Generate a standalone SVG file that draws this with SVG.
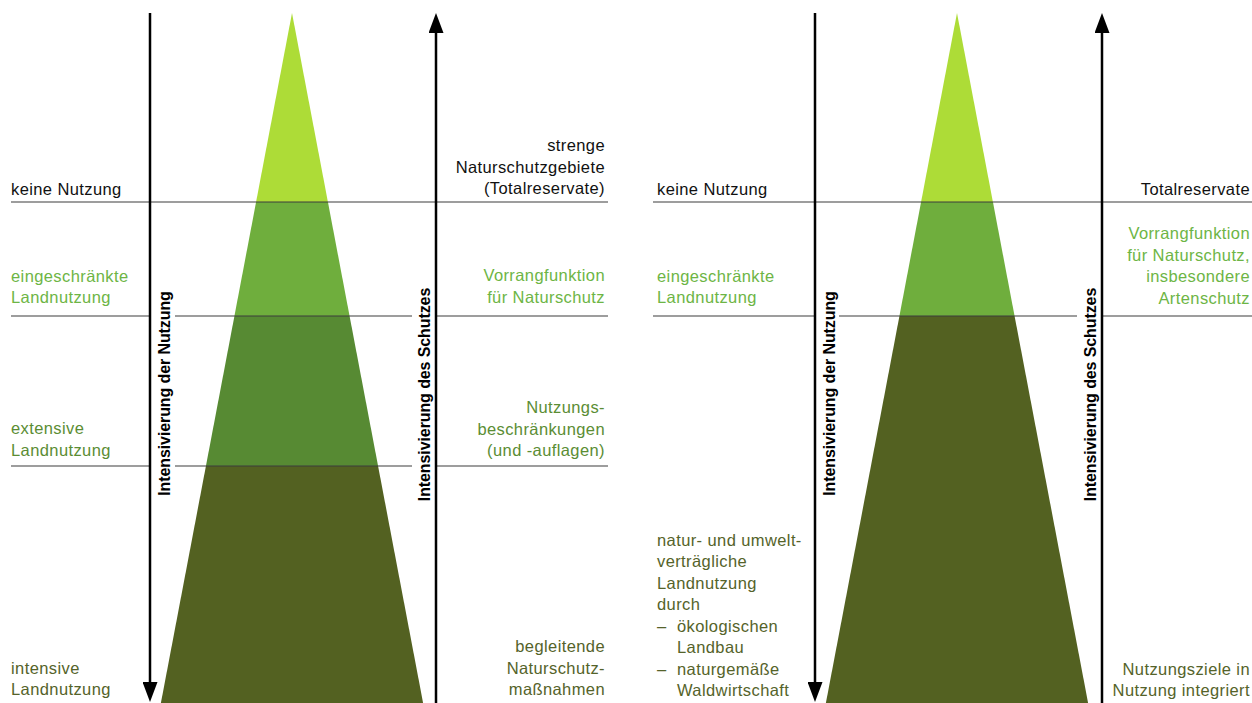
<svg xmlns="http://www.w3.org/2000/svg" width="1252" height="703" viewBox="0 0 1252 703">
<defs>
<style>
text{font-family:"Liberation Sans",Arial,Helvetica,sans-serif;font-size:16.5px;letter-spacing:0.4px}
.blk{fill:#111}
.lg{fill:#6db545}
.mg{fill:#5b8d34}
.dg{fill:#55632a}
.end{text-anchor:end}
.vt{font-weight:bold;font-size:16px;letter-spacing:-0.1px;text-anchor:middle;fill:#000}
.b1{fill:#addc37}
.b2{fill:#6fae3d}
.b3{fill:#578a33}
.b4{fill:#536121}
.hl{stroke:#3c3c3c;stroke-width:1.2;fill:none}
.ar{stroke:#000;stroke-width:2.5;fill:none}
</style>
<marker id="ah" viewBox="0 0 20 15" markerWidth="20" markerHeight="15" refX="12" refY="7.5" orient="auto" markerUnits="userSpaceOnUse">
<path d="M0,0 L20,7.5 L0,15 Z" fill="#000"/>
</marker>
</defs>
<rect width="1252" height="703" fill="#fff"/>

<!-- Left panel pyramid -->
<g id="left-pyramid">
<polygon id="L-band1" class="b1" points="292,13 327.91,202 256.09,202"/>
<polygon id="L-band2" class="b2" points="256.09,202 327.91,202 349.57,316 234.43,316"/>
<polygon id="L-band3" class="b3" points="234.43,316 349.57,316 378.07,466 205.93,466"/>
<polygon id="L-band4" class="b4" points="205.93,466 378.07,466 423.1,703 160.9,703"/>
</g>

<!-- Right panel pyramid -->
<g id="right-pyramid">
<polygon id="R-band1" class="b1" points="957,13 992.91,202 921.09,202"/>
<polygon id="R-band2" class="b2" points="921.09,202 992.91,202 1014.57,316 899.43,316"/>
<polygon id="R-band3" class="b4" points="899.43,316 1014.57,316 1088.1,703 825.9,703"/>
</g>

<g id="connectors">
<line class="hl" x1="11" y1="202" x2="608" y2="202"/>
<line class="hl" x1="11" y1="316" x2="150" y2="316"/>
<line class="hl" x1="175" y1="316" x2="412" y2="316"/>
<line class="hl" x1="436" y1="316" x2="608" y2="316"/>
<line class="hl" x1="11" y1="466" x2="150" y2="466"/>
<line class="hl" x1="175" y1="466" x2="412" y2="466"/>
<line class="hl" x1="436" y1="466" x2="608" y2="466"/>
<line class="hl" x1="653" y1="202" x2="1252" y2="202"/>
<line class="hl" x1="653" y1="316" x2="815" y2="316"/>
<line class="hl" x1="839" y1="316" x2="1077" y2="316"/>
<line class="hl" x1="1102" y1="316" x2="1252" y2="316"/>
<line class="ar" x1="150" y1="13" x2="150" y2="694" marker-end="url(#ah)"/>
<line class="ar" x1="436" y1="703" x2="436" y2="21" marker-end="url(#ah)"/>
<line class="ar" x1="815" y1="13" x2="815" y2="694" marker-end="url(#ah)"/>
<line class="ar" x1="1102" y1="703" x2="1102" y2="21" marker-end="url(#ah)"/>
</g>

<g id="axis-labels">
<text class="vt" transform="translate(169.5,393.5) rotate(-90)">Intensivierung der Nutzung</text>
<text class="vt" transform="translate(430,394.5) rotate(-90)">Intensivierung des Schutzes</text>
<text class="vt" transform="translate(834.5,393.5) rotate(-90)">Intensivierung der Nutzung</text>
<text class="vt" transform="translate(1096,394.5) rotate(-90)">Intensivierung des Schutzes</text>
</g>

<!-- Left panel labels -->
<g id="L-keine"><text class="blk" x="11" y="195">keine Nutzung</text></g>
<g id="L-eingeschraenkt"><text class="lg" x="11" y="281.5">eingeschränkte</text><text class="lg" x="11" y="303">Landnutzung</text></g>
<g id="L-extensiv"><text class="mg" x="11" y="434">extensive</text><text class="mg" x="11" y="455.5">Landnutzung</text></g>
<g id="L-intensiv"><text class="dg" x="11" y="673.5">intensive</text><text class="dg" x="11" y="695">Landnutzung</text></g>

<g id="L-strenge"><text class="blk end" x="605" y="151">strenge</text><text class="blk end" x="605" y="172.5">Naturschutzgebiete</text><text class="blk end" x="605" y="194">(Totalreservate)</text></g>
<g id="L-vorrang"><text class="lg end" x="605" y="281">Vorrangfunktion</text><text class="lg end" x="605" y="302.5">für Naturschutz</text></g>
<g id="L-beschr"><text class="mg end" x="605" y="413">Nutzungs-</text><text class="mg end" x="605" y="434.5">beschränkungen</text><text class="mg end" x="605" y="456">(und -auflagen)</text></g>
<g id="L-begleit"><text class="dg end" x="605" y="652">begleitende</text><text class="dg end" x="605" y="673.5">Naturschutz-</text><text class="dg end" x="605" y="695">maßnahmen</text></g>

<!-- Right panel labels -->
<g id="R-keine"><text class="blk" x="657" y="195">keine Nutzung</text></g>
<g id="R-eingeschraenkt"><text class="lg" x="657" y="281.5">eingeschränkte</text><text class="lg" x="657" y="303">Landnutzung</text></g>
<g id="R-vertraeglich">
<text class="dg" x="657" y="545.5">natur- und umwelt-</text>
<text class="dg" x="657" y="567">verträgliche</text>
<text class="dg" x="657" y="588.5">Landnutzung</text>
<text class="dg" x="657" y="610">durch</text>
<text class="dg" x="657" y="631.5">–</text><text class="dg" x="677" y="631.5">ökologischen</text>
<text class="dg" x="677" y="653">Landbau</text>
<text class="dg" x="657" y="674.5">–</text><text class="dg" x="677" y="674.5">naturgemäße</text>
<text class="dg" x="677" y="696">Waldwirtschaft</text>
</g>
<g id="R-total"><text class="blk end" x="1250" y="195">Totalreservate</text></g>
<g id="R-vorrang"><text class="lg end" x="1250" y="239">Vorrangfunktion</text><text class="lg end" x="1250" y="260.5">für Naturschutz,</text><text class="lg end" x="1250" y="282">insbesondere</text><text class="lg end" x="1250" y="303.5">Artenschutz</text></g>
<g id="R-integriert"><text class="dg end" x="1250" y="674.5">Nutzungsziele in</text><text class="dg end" x="1250" y="696">Nutzung integriert</text></g>
</svg>
